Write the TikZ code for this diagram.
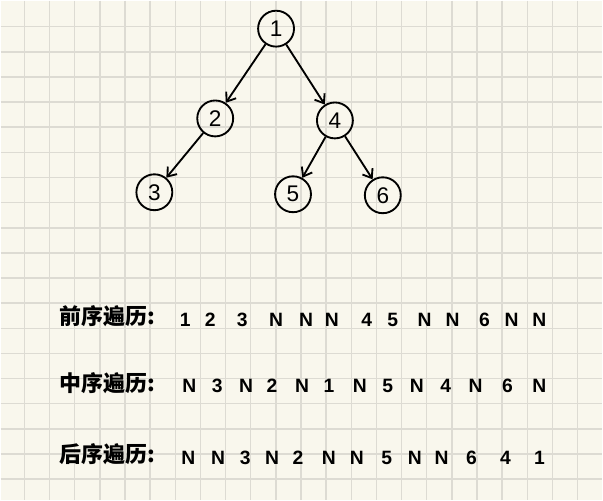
\documentclass[tikz,border=0pt]{standalone}
\usepackage{fontspec}
\setmainfont{Liberation Sans}
\newfontfamily\cjk{Noto Sans CJK SC}
\usetikzlibrary{arrows.meta}
\definecolor{paper}{RGB}{249,247,237}
\definecolor{gridgray}{RGB}{221,219,211}

\begin{document}
\begin{tikzpicture}[x=0.75pt, y=-0.75pt,
    treenode/.style={circle, draw, line width=1.4pt, minimum size=27pt, inner sep=0pt,
        font=\fontsize{17}{17}\selectfont},
    branch/.style={line width=1.4pt, -{Straight Barb[length=6pt, width=9pt]}},
    seqlabel/.style={anchor=west, inner sep=0pt, font=\cjk\bfseries\fontsize{16.5}{18}\selectfont},
    token/.style={inner sep=0pt, font=\bfseries\fontsize{14.5}{16}\selectfont}]
    % paper and grid
    \fill[paper] (0,0) rectangle (603,500);
    \foreach \x in {0,...,22}
        \draw[gridgray, line width=1.1pt] ({23.8+25.2*\x},0) -- ({23.8+25.2*\x},500);
    \foreach \y in {0,...,18}
        \draw[gridgray, line width=1.1pt] (0,{26+25.2*\y}) -- (603,{26+25.2*\y});

    % Tree
    \node[treenode] (n1) at (276,28) {1};
    \node[treenode] (n2) at (215,118) {2};
    \node[treenode] (n4) at (335,120) {4};
    \node[treenode] (n3) at (154,192) {3};
    \node[treenode] (n5) at (293,194) {5};
    \node[treenode] (n6) at (383,195) {6};
    \draw[branch] (n1) -- (n2);
    \draw[branch] (n1) -- (n4);
    \draw[branch] (n2) -- (n3);
    \draw[branch] (n4) -- (n5);
    \draw[branch] (n4) -- (n6);

    % Traversals
    \node[seqlabel] (pre) at (59,316) {前序遍历:};
    \node[seqlabel] (in) at (59,383) {中序遍历:};
    \node[seqlabel] (post) at (59,455) {后序遍历:};
    \foreach \x/\t [count=\i] in {185/1, 210/2, 242/3, 276/N, 306/N, 332/N, 367/4,
        393/5, 425/N, 453/N, 485/6, 512/N, 540/N}
        \node[token] (pre\i) at (\x,320) {\t};
    \foreach \x/\t [count=\i] in {189/N, 217/3, 246/N, 272/2, 302/N, 329/1, 360/N,
        388/5, 417/N, 446/4, 476/N, 508/6, 540/N}
        \node[token] (in\i) at (\x,386) {\t};
    \foreach \x/\t [count=\i] in {188/N, 218/N, 245/3, 272/N, 298/2, 329/N, 357/N,
        387/5, 415/N, 442/N, 472/6, 506/4, 540/1}
        \node[token] (post\i) at (\x,458) {\t};
\end{tikzpicture}
\end{document}
